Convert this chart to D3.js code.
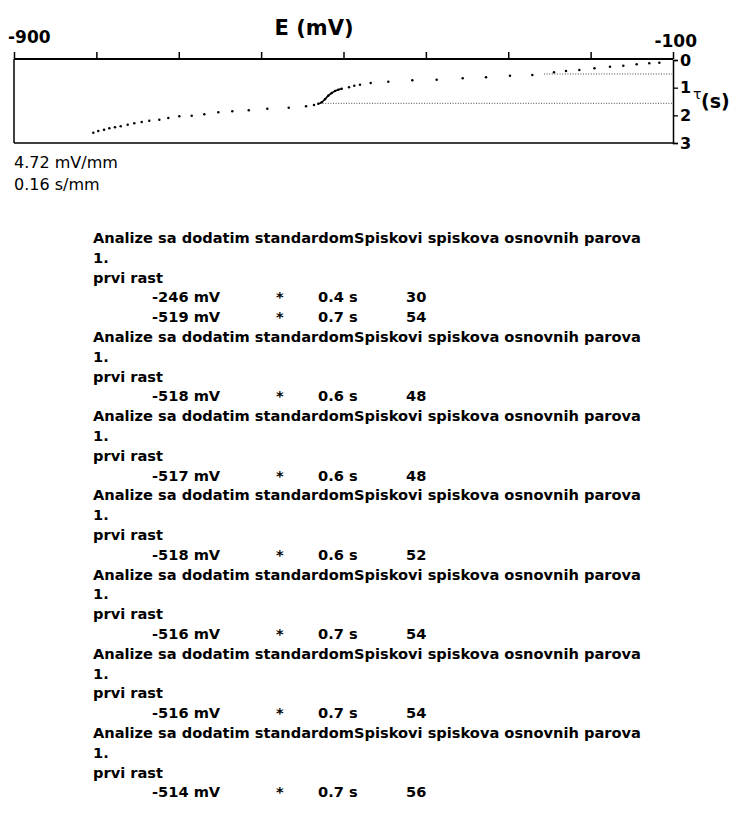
<!DOCTYPE html>
<html>
<head>
<meta charset="utf-8">
<script src="https://cdn.jsdelivr.net/npm/d3@7"></script>
<style>
  html, body { margin: 0; padding: 0; background: #fff; }
  svg { display: block; }
</style>
</head>
<body>
<svg id="chart" width="732" height="823"></svg>
<script>
// ---------- data ----------
const xTicks = [-900, -800, -700, -600, -500, -400, -300, -200, -100];
const yTicks = [0, 1, 2, 3];
const E   = [-803.7,-797.7,-790.7,-784.3,-777.4,-770.5,-762,-754,-745,-735.8,-723.6,-712.7,-699.3,-684.3,-669,-652,-635,-615,-592.5,-566.5,-545.5,-535.8,-530.6,-526.5,-522.5,-518.5,-514.3,-510.3,-506.3,-502.2,-493.3,-486.9,-480,-467,-445.6,-416.5,-386.9,-355.3,-327,-297.9,-270.8,-244.5,-229.9,-213.7,-195.3,-176.5,-160.3,-144.1,-128.8,-116.6];
const TAU = [2.627,2.566,2.519,2.468,2.432,2.396,2.338,2.288,2.241,2.194,2.158,2.096,2.035,2.013,1.962,1.890,1.854,1.818,1.760,1.724,1.673,1.626,1.579,1.529,1.420,1.290,1.193,1.120,1.073,1.037,0.987,0.929,0.893,0.831,0.784,0.734,0.712,0.661,0.625,0.567,0.542,0.445,0.398,0.358,0.300,0.242,0.206,0.155,0.119,0.098];
const steepRange = [-531, -502];
const guideE   = [-528.5, -256.6];   // start of horizontal dotted guides
const guideTau = [1.565, 0.506];
const scaleLines = ["4.72 mV/mm", "0.16 s/mm"];

const headerText = "Analize sa dodatim standardomSpiskovi spiskova osnovnih parova";
const subText1 = "1.";
const subText2 = "prvi rast";
const peakE = [[-246, -519], [-518], [-517], [-518], [-516], [-516], [-514]];
const peakT = [[0.4, 0.7], [0.6], [0.6], [0.6], [0.7], [0.7], [0.7]];
const peakN = [[30, 54], [48], [48], [52], [54], [54], [56]];

// ---------- layout ----------
const svg = d3.select("#chart");
const L = 14, R = 673, T = 60, B = 143;
const x = d3.scaleLinear().domain([-900, -100]).range([L, R]);
const y = d3.scaleLinear().domain([0, 3]).range([T, B]);
const FONT = "'DejaVu Sans', sans-serif";

// frame
svg.append("line").attr("x1", L).attr("x2", R).attr("y1", T - 1).attr("y2", T - 1)
  .attr("stroke", "#000").attr("stroke-width", 2);
svg.append("line").attr("x1", L).attr("x2", R).attr("y1", B).attr("y2", B)
  .attr("stroke", "#000").attr("stroke-width", 1.5);
svg.append("line").attr("x1", L).attr("x2", L).attr("y1", T - 1).attr("y2", B)
  .attr("stroke", "#000").attr("stroke-width", 1.5);

// top axis (ticks only)
const gx = svg.append("g").attr("transform", `translate(0,${T - 1})`)
  .call(d3.axisTop(x).tickValues(xTicks).tickSize(7).tickFormat(""));
gx.select(".domain").remove();
gx.selectAll(".tick line").attr("stroke", "#000").attr("stroke-width", 1.5);

// right axis
const gy = svg.append("g").attr("transform", `translate(${R},0)`)
  .call(d3.axisRight(y).tickValues(yTicks).tickSize(5).tickPadding(2).tickFormat(d3.format("d")));
gy.select(".domain").attr("stroke", "#000").attr("stroke-width", 1.5);
gy.selectAll(".tick line").attr("stroke", "#000").attr("stroke-width", 1.3);
gy.selectAll(".tick text").attr("font-family", FONT).attr("font-weight", "bold")
  .attr("font-size", 16).attr("fill", "#000");

// axis labels
svg.append("text").attr("x", x(-900) - 6).attr("y", 43)
  .attr("font-family", FONT).attr("font-weight", "bold").attr("font-size", 17)
  .text(xTicks[0]);
svg.append("text").attr("x", x(-100) + 24).attr("y", 47).attr("text-anchor", "end")
  .attr("font-family", FONT).attr("font-weight", "bold").attr("font-size", 17)
  .text(xTicks[xTicks.length - 1]);
svg.append("text").attr("x", 314).attr("y", 35).attr("text-anchor", "middle")
  .attr("font-family", FONT).attr("font-weight", "bold").attr("font-size", 21)
  .text("E (mV)");
svg.append("text").attr("x", 693).attr("y", 99)
  .attr("font-family", FONT).attr("font-size", 14).text("τ");
svg.append("text").attr("x", 701).attr("y", 108)
  .attr("font-family", FONT).attr("font-weight", "bold").attr("font-size", 19).text("(s)");

// guides
guideE.forEach((e, i) => {
  svg.append("line").attr("x1", x(e)).attr("x2", R - 1)
    .attr("y1", y(guideTau[i])).attr("y2", y(guideTau[i]))
    .attr("stroke", "#333").attr("stroke-width", 0.9).attr("stroke-dasharray", "1,1.6");
});

// points
const pts = E.map((e, i) => ({ e, t: TAU[i] }));
svg.append("g").selectAll("circle").data(pts).join("circle")
  .attr("cx", d => x(d.e)).attr("cy", d => y(d.t)).attr("r", 1.25).attr("fill", "#000");
const steep = pts.filter(d => d.e >= steepRange[0] && d.e <= steepRange[1]);
svg.append("path").datum(steep)
  .attr("d", d3.line().x(d => x(d.e)).y(d => y(d.t)).curve(d3.curveMonotoneX))
  .attr("fill", "none").attr("stroke", "#000").attr("stroke-width", 1.6);

// scale notes
scaleLines.forEach((s, i) => {
  svg.append("text").attr("x", 14).attr("y", 168 + i * 22)
    .attr("font-family", FONT).attr("font-size", 16).text(s);
});

// ---------- text list ----------
const lines = [];
peakE.forEach((arr, bi) => {
  lines.push({ type: "h", text: headerText });
  lines.push({ type: "h", text: subText1 });
  lines.push({ type: "h", text: subText2 });
  arr.forEach((e, k) => lines.push({ type: "v", e, t: peakT[bi][k], n: peakN[bi][k] }));
});

const textG = svg.append("g").attr("font-family", FONT).attr("font-weight", "bold")
  .attr("fill", "#000");
// fit font so header spans the measured width
const probe = textG.append("text").attr("font-size", 15).text(headerText);
const w15 = probe.node().getComputedTextLength();
probe.remove();
const fs = 15 * 548 / w15;
textG.attr("font-size", fs);

const X0 = 93, Y0 = 243, DY = 19.8;
const colX = [152, 276, 318, 406];
lines.forEach((ln, i) => {
  const yy = Y0 + i * DY;
  if (ln.type === "h") {
    textG.append("text").attr("x", X0).attr("y", yy).text(ln.text);
  } else {
    textG.append("text").attr("x", colX[0]).attr("y", yy).text(ln.e + " mV");
    textG.append("text").attr("x", colX[1]).attr("y", yy).text("*");
    textG.append("text").attr("x", colX[2]).attr("y", yy).text(ln.t + " s");
    textG.append("text").attr("x", colX[3]).attr("y", yy).text(ln.n);
  }
});
</script>
</body>
</html>
